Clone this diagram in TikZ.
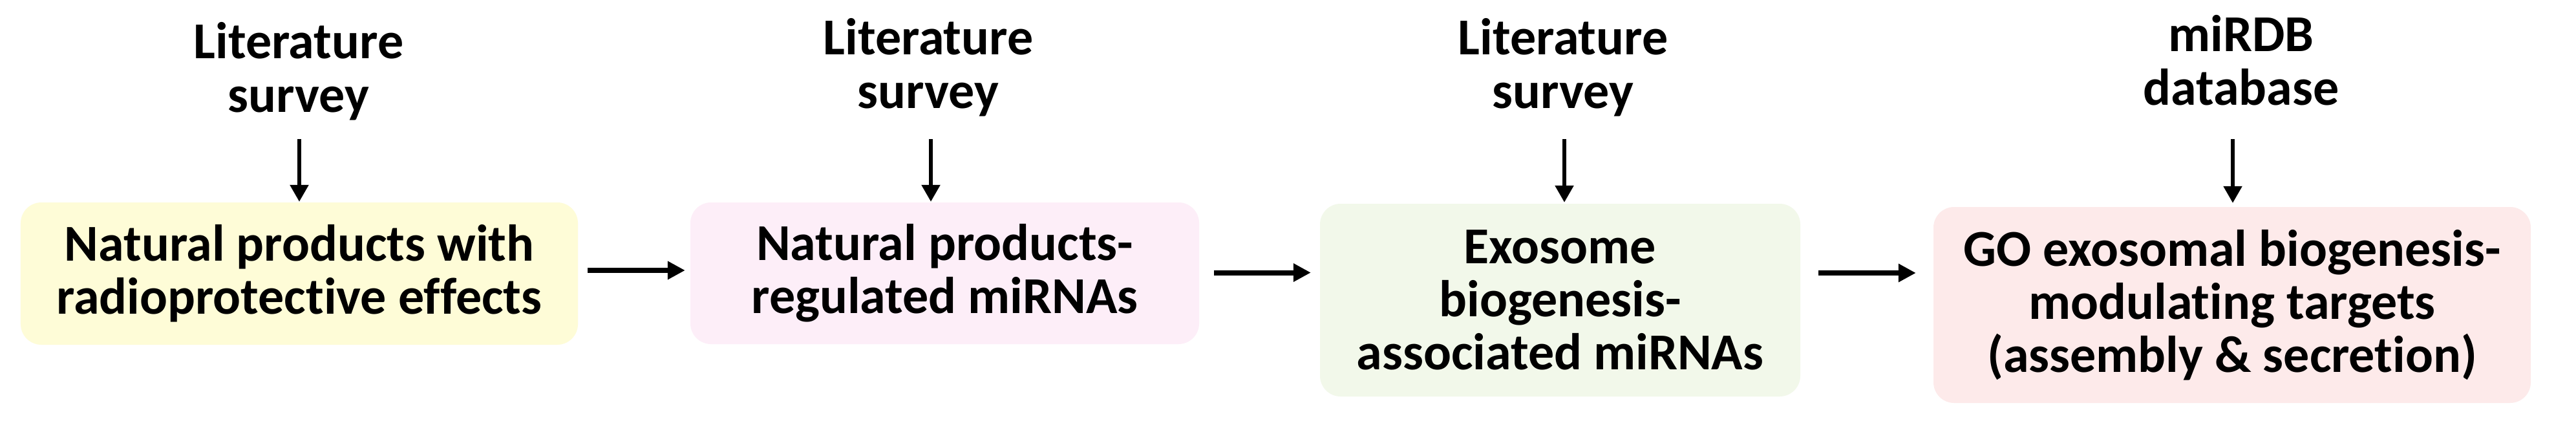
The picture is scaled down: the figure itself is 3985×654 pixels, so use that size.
\documentclass[tikz,border=0pt]{standalone}
\usepackage{fontspec}
\setmainfont{Carlito}[Ligatures=NoCommon]
\usetikzlibrary{arrows.meta}
\definecolor{boxyellow}{HTML}{FEFCD7}
\definecolor{boxpink}{HTML}{FDEEF8}
\definecolor{boxgreen}{HTML}{F2F8EA}
\definecolor{boxsalmon}{HTML}{FDEAEA}
\begin{document}
\begin{tikzpicture}[x=1bp,y=-1bp,
  txt/.style={font=\fontsize{80bp}{82bp}\selectfont\bfseries, align=center, inner sep=0pt, text=black},
  stepbox/.style={txt, rounded corners=32bp, draw=none},
  srclabel/.style={txt, anchor=base},
  varrow/.style={line width=5.5bp, -{Triangle[length=26bp,width=28bp]}},
  harrow/.style={line width=8bp, -{Triangle[length=27bp,width=27bp]}}]
\fill[white] (0,0) rectangle (3985,654);
\useasboundingbox (0,0) rectangle (3985,654);

% boxes
\node[stepbox, fill=boxyellow, minimum width=862bp, minimum height=220bp] (b1) at (463,423)
  {Natural products with\\radioprotective effects};
\node[stepbox, fill=boxpink, minimum width=787bp, minimum height=219bp] (b2) at (1461.5,422.5)
  {Natural products-\\regulated miRNAs};
\node[stepbox, fill=boxgreen, minimum width=743bp, minimum height=298bp] (b3) at (2413.5,464)
  {Exosome\\biogenesis-\\associated miRNAs};
\node[stepbox, fill=boxsalmon, minimum width=924bp, minimum height=303bp] (b4) at (3453,471.5)
  {GO exosomal biogenesis-\\modulating targets\\(assembly \& secretion)};

% source labels (base = baseline of last line)
\node[srclabel] (l1) at (462,173) {Literature\\survey};
\node[srclabel] (l2) at (1436,167) {Literature\\survey};
\node[srclabel] (l3) at (2418,167) {Literature\\survey};
\node[srclabel] (l4) at (3467,162) {miRDB\\database};

% arrow starts
\coordinate (t1) at (463,215);
\coordinate (t2) at (1440,215);
\coordinate (t3) at (2420,215);
\coordinate (t4) at (3454,215);

\draw[varrow, shorten >=1bp] (t1) -- (t1 |- b1.north);
\draw[varrow, shorten >=1bp] (t2) -- (t2 |- b2.north);
\draw[varrow, shorten >=2bp] (t3) -- (t3 |- b3.north);
\draw[varrow, shorten >=6bp] (t4) -- (t4 |- b4.north);

\draw[harrow, shorten <=15bp, shorten >=8bp] ([yshift=5bp]b1.east) -- ([yshift=5bp]b1.east -| b2.west);
\draw[harrow, shorten <=23bp, shorten >=14bp] ([yshift=1bp]b2.east) -- ([yshift=1bp]b2.east -| b3.west);
\draw[harrow, shorten <=28bp, shorten >=27bp] ([yshift=42bp]b3.east) -- ([yshift=42bp]b3.east -| b4.west);
\end{tikzpicture}
\end{document}
